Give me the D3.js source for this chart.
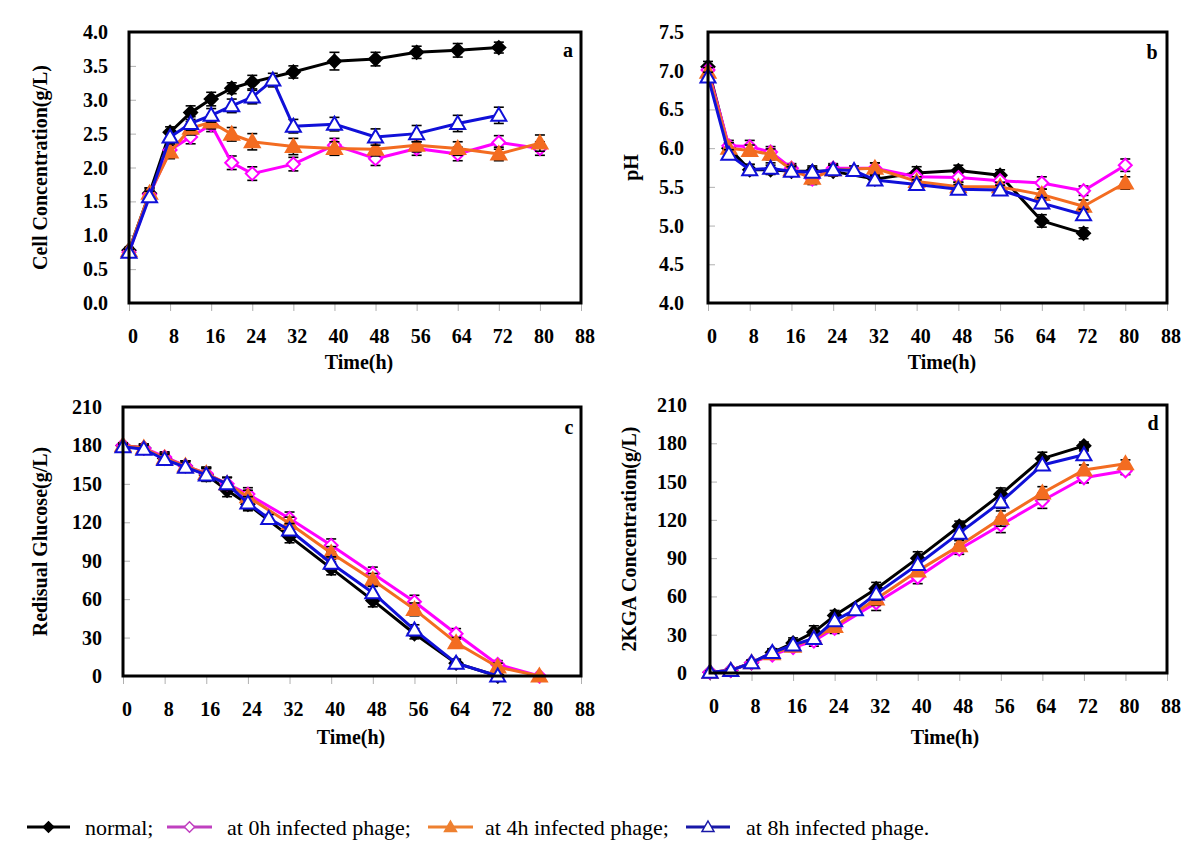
<!DOCTYPE html>
<html><head><meta charset="utf-8">
<script src="https://cdn.jsdelivr.net/npm/d3@7"></script>
<style>
html,body{margin:0;padding:0;background:#fff;}
svg text{font-family:"Liberation Serif","Times New Roman",Times,serif;}
</style></head>
<body><div id="chart"></div>
<script>
// ---------- DATA ----------
const seriesNames = ["normal;", "at 0h infected phage;", "at 4h infected phage;", "at 8h infected phage."];
const timesNormal = [0,4,8,12,16,20,24,32,40,48,56,64,72];
const times0h     = [0,4,8,12,16,20,24,32,40,48,56,64,72,80];
const times4h     = [0,4,8,12,16,20,24,32,40,48,56,64,72,80];
const times8h     = [0,4,8,12,16,20,24,28,32,40,48,56,64,72];

const xTicks = [0,8,16,24,32,40,48,56,64,72,80,88];

// a: cell concentration (g/L)
const cellNormal = [0.78,1.62,2.52,2.81,3.01,3.17,3.26,3.41,3.57,3.60,3.70,3.73,3.77];
const cell0h     = [0.75,1.60,2.26,2.45,2.63,2.07,1.91,2.05,2.33,2.13,2.28,2.20,2.37,2.28];
const cell4h     = [0.77,1.62,2.23,2.58,2.67,2.49,2.38,2.31,2.28,2.27,2.33,2.28,2.20,2.36];
const cell8h     = [0.75,1.57,2.45,2.65,2.77,2.91,3.04,3.29,2.61,2.64,2.45,2.50,2.65,2.77];
const cellErrNormal = [0.04,0.08,0.08,0.10,0.10,0.08,0.10,0.09,0.13,0.10,0.09,0.10,0.08];
const cellErr0h     = [0.04,0.08,0.10,0.10,0.10,0.10,0.10,0.10,0.10,0.10,0.10,0.10,0.10,0.10];
const cellErr4h     = [0.04,0.08,0.10,0.10,0.10,0.10,0.12,0.12,0.10,0.10,0.10,0.10,0.10,0.12];
const cellErr8h     = [0.04,0.08,0.10,0.10,0.10,0.10,0.10,0.10,0.10,0.10,0.12,0.12,0.12,0.12];
const cellTicks = [0,0.5,1,1.5,2,2.5,3,3.5,4];

// b: pH
const phNormal = [7.05,6.00,5.72,5.72,5.70,5.70,5.70,5.60,5.68,5.71,5.65,5.06,4.90];
const ph0h     = [7.01,6.03,6.02,5.95,5.74,5.60,5.74,5.74,5.63,5.62,5.58,5.55,5.45,5.78];
const ph4h     = [6.98,6.00,5.97,5.92,5.72,5.61,5.72,5.74,5.57,5.50,5.50,5.40,5.25,5.55];
const ph8h     = [6.92,5.92,5.72,5.74,5.70,5.69,5.72,5.71,5.59,5.53,5.47,5.46,5.29,5.14];
const phErrNormal = [0.07,0.07,0.07,0.06,0.06,0.07,0.06,0.05,0.08,0.07,0.07,0.08,0.07];
const phErr0h     = [0.06,0.07,0.08,0.07,0.06,0.07,0.06,0.07,0.07,0.06,0.06,0.08,0.06,0.08];
const phErr4h     = [0.06,0.07,0.07,0.07,0.06,0.06,0.06,0.07,0.06,0.06,0.06,0.07,0.08,0.08];
const phErr8h     = [0.06,0.06,0.07,0.07,0.06,0.06,0.06,0.06,0.06,0.06,0.06,0.06,0.07,0.07];
const phTicks = [4,4.5,5,5.5,6,6.5,7,7.5];

// c: residual glucose (g/L)
const glucoseNormal = [180,178,170,164,157,145,134,109,84,59,33,10,0];
const glucose0h     = [180,178,171,164,158,150,142,123,102,80,58,33,9,0];
const glucose4h     = [180,178,170,164,158,150,140,119,96,75,52,26,7,0];
const glucose8h     = [179,177,169,163,157,150,135,123,114,88,65,36,10,0];
const glucoseErrNormal = [2,3,4,4,5,5,5,5,5,5,4,3,0];
const glucoseErr0h     = [2,3,4,4,5,5,5,5,5,5,5,4,3,0];
const glucoseErr4h     = [2,3,4,4,5,5,5,5,5,5,5,4,3,0];
const glucoseErr8h     = [2,3,4,4,5,5,5,3,5,5,5,4,3,0];
const glucoseTicks = [0,30,60,90,120,150,180,210];

// d: 2KGA concentration (g/L)
const kgaNormal = [0.5,2,8,16,23.5,32,45,66,90,115,140,168,178];
const kga0h     = [0.5,2,8,14,20,25,35,55,75,97,116,135,153,158.5];
const kga4h     = [0.5,2,8,15,21,27,36.5,58,80,99.7,121,141,159,164];
const kga8h     = [0.5,2,8,16,22,27,41,49.6,62,85,109.6,134,163,171];
const kgaErrNormal = [1,1,2,3,4,5,4,5,5,4,5,5,3];
const kgaErr0h     = [1,1,2,3,3,4,4,6,5,4,6,6,4,3];
const kgaErr4h     = [1,1,2,3,3,4,4,5,4,4,6,5,4,3];
const kgaErr8h     = [1,1,2,3,4,4,4,3,5,4,5,5,4,3];
const kgaTicks = [0,30,60,90,120,150,180,210];

// ---------- STYLE ----------
const colors = ["#000000", "#ff00ff", "#f36c21", "#1010d8"];
const legendColors = ["#000000", "#c040c0", "#ee8030", "#1818a8"];
const FONT = '"Liberation Serif","Times New Roman",Times,serif';
const W = 1200, H = 858;

const svg = d3.select("#chart").append("svg")
  .attr("width", W).attr("height", H)
  .style("background", "#fff");

function markerPath(kind, s){
  s = s || 1;
  if (kind === 0 || kind === 1) return `M0,${-6.5*s}L${6.5*s},0L0,${6.5*s}L${-6.5*s},0Z`;
  return `M0,${-7.5*s}L${7.5*s},${5.5*s}L${-7.5*s},${5.5*s}Z`;
}
function markerFill(kind, cols){
  if (kind === 0) return cols[0];
  if (kind === 2) return cols[2];
  return "#fff";
}

function buildSeries(vals, errs){
  const ts = [timesNormal, times0h, times4h, times8h];
  return vals.map((v, i) => v.map((y, j) => ({t: ts[i][j], v: y, e: errs[i][j]})));
}

const panels = [
  {letter:"a", left:129, right:581, top:32, bottom:303, domain:[0,4], ticks:cellTicks, fmt:d3.format(".1f"),
   title:"Cell Concentration(g/L)", titleX:40, labelRight:108, tickLabelY:336, timeX:359, timeY:362, letterX:568, letterY:50,
   series: buildSeries([cellNormal, cell0h, cell4h, cell8h], [cellErrNormal, cellErr0h, cellErr4h, cellErr8h])},
  {letter:"b", left:708, right:1167, top:32, bottom:303, domain:[4,7.5], ticks:phTicks, fmt:d3.format(".1f"),
   title:"pH", titleX:631, labelRight:684, tickLabelY:336, timeX:942, timeY:362, letterX:1152, letterY:52,
   series: buildSeries([phNormal, ph0h, ph4h, ph8h], [phErrNormal, phErr0h, phErr4h, phErr8h])},
  {letter:"c", left:123, right:581, top:407, bottom:676, domain:[0,210], ticks:glucoseTicks, fmt:d3.format("d"),
   title:"Redisual Glucose(g/L)", titleX:40, labelRight:102, tickLabelY:709, timeX:351, timeY:737, letterX:569, letterY:427,
   series: buildSeries([glucoseNormal, glucose0h, glucose4h, glucose8h], [glucoseErrNormal, glucoseErr0h, glucoseErr4h, glucoseErr8h])},
  {letter:"d", left:710, right:1167, top:405, bottom:673, domain:[0,210], ticks:kgaTicks, fmt:d3.format("d"),
   title:"2KGA Concentration(g/L)", titleX:629, labelRight:687, tickLabelY:706, timeX:945, timeY:737, letterX:1153, letterY:423,
   series: buildSeries([kgaNormal, kga0h, kga4h, kga8h], [kgaErrNormal, kgaErr0h, kgaErr4h, kgaErr8h])}
];

panels.forEach(p => {
  const x = d3.scaleLinear().domain([0, 88]).range([p.left, p.right]);
  const y = d3.scaleLinear().domain(p.domain).range([p.bottom, p.top]);
  const g = svg.append("g");

  const yAxis = d3.axisRight(y).tickValues(p.ticks).tickSize(7).tickFormat("");
  g.append("g").attr("transform", `translate(${p.left},0)`).call(yAxis)
    .call(s => s.select(".domain").remove())
    .call(s => s.selectAll("line").attr("stroke", "#b0b0b0").attr("stroke-width", 1));
  g.append("g").selectAll("text").data(p.ticks).join("text")
    .attr("x", p.labelRight).attr("y", d => y(d))
    .attr("text-anchor", "end").attr("dominant-baseline", "central")
    .attr("font-family", FONT).attr("font-size", 20).attr("font-weight", "bold")
    .text(d => p.fmt(d));

  const xAxis = d3.axisBottom(x).tickValues(xTicks).tickSize(8).tickFormat("");
  g.append("g").attr("transform", `translate(0,${p.bottom})`).call(xAxis)
    .call(s => s.select(".domain").remove())
    .call(s => s.selectAll("line").attr("stroke", "#b0b0b0").attr("stroke-width", 1));
  g.append("g").selectAll("text").data(xTicks).join("text")
    .attr("x", d => x(d) + 4).attr("y", p.tickLabelY)
    .attr("text-anchor", "middle").attr("dominant-baseline", "central")
    .attr("font-family", FONT).attr("font-size", 20).attr("font-weight", "bold")
    .text(d => d);

  g.append("text").attr("x", p.timeX).attr("y", p.timeY)
    .attr("text-anchor", "middle").attr("dominant-baseline", "central")
    .attr("font-family", FONT).attr("font-size", 20).attr("font-weight", "bold").text("Time(h)");
  g.append("text")
    .attr("transform", `translate(${p.titleX},${(p.top + p.bottom) / 2}) rotate(-90)`)
    .attr("text-anchor", "middle").attr("dominant-baseline", "central")
    .attr("font-family", FONT).attr("font-size", 20).attr("font-weight", "bold").text(p.title);
  g.append("text").attr("x", p.letterX).attr("y", p.letterY)
    .attr("text-anchor", "middle").attr("dominant-baseline", "central")
    .attr("font-family", FONT).attr("font-size", 20).attr("font-weight", "bold").text(p.letter);

  const line = d3.line().x(d => x(d.t)).y(d => y(d.v));
  p.series.forEach((s, i) => {
    const sg = g.append("g");
    const eb = sg.append("g").attr("stroke", "#000").attr("stroke-width", 1.6);
    const withErr = s.filter(d => d.e > 0);
    eb.selectAll("line.v").data(withErr).join("line").attr("class", "v")
      .attr("x1", d => x(d.t)).attr("x2", d => x(d.t))
      .attr("y1", d => y(d.v - d.e)).attr("y2", d => y(d.v + d.e));
    eb.selectAll("line.t").data(withErr).join("line").attr("class", "t")
      .attr("x1", d => x(d.t) - 5).attr("x2", d => x(d.t) + 5)
      .attr("y1", d => y(d.v + d.e)).attr("y2", d => y(d.v + d.e));
    eb.selectAll("line.b").data(withErr).join("line").attr("class", "b")
      .attr("x1", d => x(d.t) - 5).attr("x2", d => x(d.t) + 5)
      .attr("y1", d => y(d.v - d.e)).attr("y2", d => y(d.v - d.e));
    sg.append("path").datum(s).attr("d", line)
      .attr("fill", "none").attr("stroke", colors[i]).attr("stroke-width", 3)
      .attr("stroke-linejoin", "round");
    sg.selectAll("path.m").data(s).join("path").attr("class", "m")
      .attr("transform", d => `translate(${x(d.t)},${y(d.v)})`)
      .attr("d", markerPath(i))
      .attr("fill", markerFill(i, colors)).attr("stroke", colors[i]).attr("stroke-width", 2);
  });

  g.append("rect").attr("x", p.left).attr("y", p.top)
    .attr("width", p.right - p.left).attr("height", p.bottom - p.top)
    .attr("fill", "none").attr("stroke", "#000").attr("stroke-width", 3);
});

// legend
const legendItems = [
  {x1:27, x2:70, tx:85},
  {x1:167, x2:212, tx:227},
  {x1:428, x2:473, tx:485},
  {x1:686, x2:730, tx:746}
];
const lg = svg.append("g");
const legendY = 827;
legendItems.forEach((it, i) => {
  lg.append("line").attr("x1", it.x1).attr("x2", it.x2).attr("y1", legendY).attr("y2", legendY)
    .attr("stroke", legendColors[i]).attr("stroke-width", 3);
  lg.append("path").attr("transform", `translate(${(it.x1 + it.x2) / 2},${legendY})`)
    .attr("d", markerPath(i, 0.8)).attr("fill", markerFill(i, legendColors))
    .attr("stroke", legendColors[i]).attr("stroke-width", 1.5);
  lg.append("text").attr("x", it.tx).attr("y", legendY).attr("dominant-baseline", "central")
    .attr("font-family", FONT).attr("font-size", 22).text(seriesNames[i]);
});
</script>
</body></html>
